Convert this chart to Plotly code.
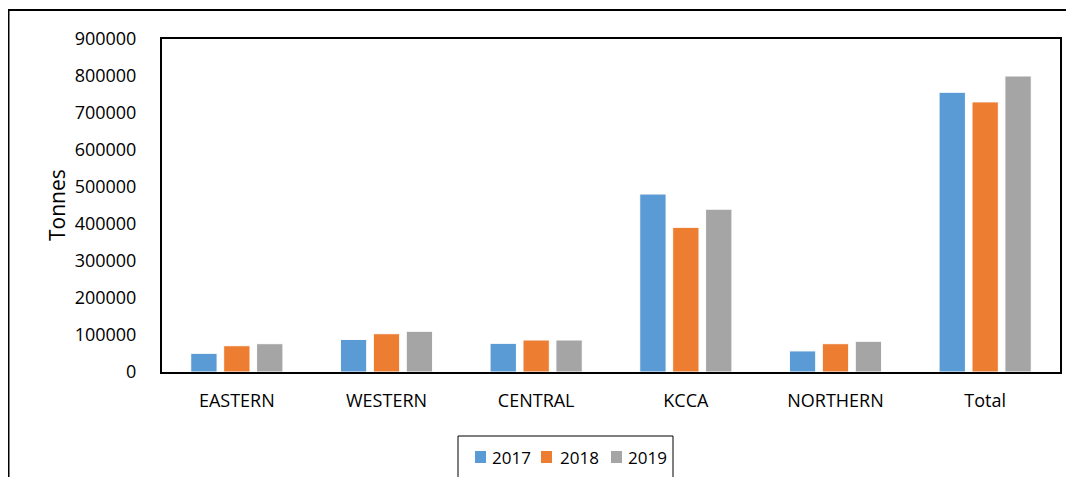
import plotly.graph_objects as go

categories = ["EASTERN", "WESTERN", "CENTRAL", "KCCA", "NORTHERN", "Total"]
years = ["2017", "2018", "2019"]
values_2017 = [50500, 88000, 77500, 481000, 57000, 756000]
values_2018 = [71000, 103500, 86500, 391000, 76500, 730000]
values_2019 = [76500, 110000, 86500, 440000, 83000, 800000]
colors = ["#5B9BD5", "#ED7D31", "#A5A5A5"]
y_ticks = [0, 100000, 200000, 300000, 400000, 500000, 600000, 700000, 800000, 900000]

FONT = "Open Sans"
# page has an 8px body margin, so figure coords = screen coords - 8
W, H = 1066, 469
L, R, T, B = 154, 1052, 31, 364

def px_x(p):
    return (p - L) / (R - L)

def px_y(p):
    return (B - p) / (B - T)

fig = go.Figure()
for name, vals, col in zip(years, [values_2017, values_2018, values_2019], colors):
    fig.add_trace(go.Bar(
        x=categories, y=vals, name=name,
        marker=dict(color=col, line=dict(color="white", width=1)),
    ))

shapes = [
    dict(type="line", xref="paper", yref="paper", x0=px_x(0), x1=px_x(W),
         y0=px_y(2), y1=px_y(2), line=dict(color="black", width=2)),
    dict(type="line", xref="paper", yref="paper", x0=px_x(0.5), x1=px_x(0.5),
         y0=px_y(2), y1=px_y(H + 2), line=dict(color="black", width=2)),
    # legend box
    dict(type="rect", xref="paper", yref="paper", x0=px_x(450), x1=px_x(665),
         y0=px_y(428), y1=px_y(H + 5), line=dict(color="black", width=1),
         fillcolor="white", layer="above"),
]
annotations = [dict(
    text="Tonnes", xref="paper", yref="paper", x=px_x(49), y=px_y(197),
    xanchor="center", yanchor="middle", textangle=-90, showarrow=False,
    font=dict(family=FONT, size=21, color="#000000"),
)]
sq_x = [467, 533, 603]
txt_x = [482, 550, 618]
for name, col, sx, tx in zip(years, colors, sq_x, txt_x):
    shapes.append(dict(type="rect", xref="paper", yref="paper",
                       x0=px_x(sx), x1=px_x(sx + 11), y0=px_y(443), y1=px_y(455),
                       line=dict(width=0), fillcolor=col, layer="above"))
    annotations.append(dict(text=name, xref="paper", yref="paper",
                            x=px_x(tx), y=px_y(449.5), xanchor="left", yanchor="middle",
                            showarrow=False,
                            font=dict(family=FONT, size=17, color="#000000")))

fig.update_layout(
    width=W, height=H,
    margin=dict(l=L, r=W - R, t=T, b=H - B),
    paper_bgcolor="white", plot_bgcolor="white",
    barmode="group", bargap=0.34, bargroupgap=0.2,
    font=dict(family=FONT, size=18, color="#000000"),
    showlegend=False,
    xaxis=dict(
        showline=True, mirror=True, linecolor="black", linewidth=2,
        ticks="", ticklabelstandoff=11, showgrid=False,
        tickfont=dict(family=FONT, size=18),
    ),
    yaxis=dict(
        range=[0, 900000], tickvals=y_ticks, ticktext=[str(v) for v in y_ticks],
        showline=True, mirror=True, linecolor="black", linewidth=2,
        ticks="", ticklabelstandoff=20, showgrid=False, zeroline=False,
        tickfont=dict(family=FONT, size=18),
    ),
    annotations=annotations,
    shapes=shapes,
)

fig.write_html("out.html")
